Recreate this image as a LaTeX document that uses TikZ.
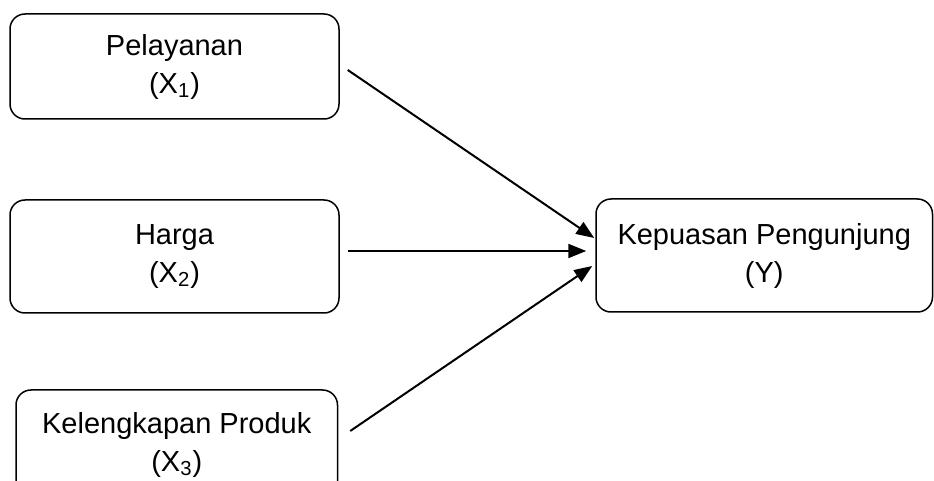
\documentclass[tikz,border=0pt]{standalone}
\usepackage{fontspec}
\setmainfont{Liberation Sans}
\usetikzlibrary{arrows.meta, calc}

\begin{document}
\begin{tikzpicture}[x=0.5pt, y=-0.5pt,
  font=\fontsize{14.5}{19}\selectfont,
  kotak/.style={draw, line width=0.75pt, rounded corners=7.5pt,
    align=center, inner sep=0pt},
  panah/.style={-{Triangle[length=9pt, width=7pt]}, line width=1pt}]
  \useasboundingbox (0,0) rectangle (934,481);

  % variabel bebas
  \node[kotak, minimum width=164.5pt, minimum height=52.5pt] (x1) at (174.5,66.5)
    {Pelayanan\\(X\textsubscript{1})};
  \node[kotak, minimum width=164.5pt, minimum height=56.5pt] (x2) at (174.5,256.5)
    {Harga\\(X\textsubscript{2})};
  \node[kotak, minimum width=160.75pt, minimum height=55pt] (x3) at (176.75,445)
    {Kelengkapan Produk\\(X\textsubscript{3})};

  % variabel terikat
  \node[kotak, minimum width=168.25pt, minimum height=56.5pt] (y) at (764.25,255.5)
    {Kepuasan Pengunjung\\(Y)};

  \draw[panah] ($(x1.east)+(8,3.5)$) -- ($(y.west)+(-1,-17.5)$);
  \draw[panah] ($(x2.east)+(8,-5.5)$) -- ($(y.west)+(-9,-4.5)$);
  \draw[panah] ($(x3.east)+(12,-14)$) -- ($(y.west)+(-3,10.5)$);
\end{tikzpicture}
\end{document}
